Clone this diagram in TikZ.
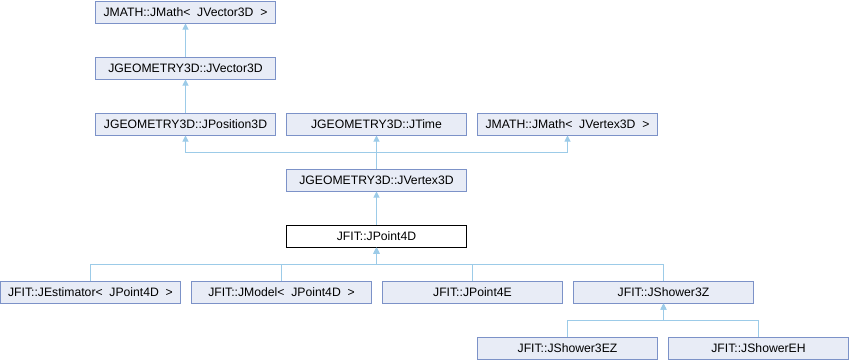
\documentclass[tikz,border=0pt]{standalone}
\usepackage{fontspec}
\setmainfont{Liberation Sans}
\usetikzlibrary{arrows.meta}
\definecolor{boxfill}{HTML}{E8ECF6}
\definecolor{boxline}{HTML}{7C92C8}
\definecolor{edge}{HTML}{9CCBE8}
\tikzset{
  cls/.style={draw=boxline, fill=boxfill, line width=1pt, minimum width=180pt, minimum height=22pt, inner sep=0pt, font=\fontsize{12.2}{14}\selectfont},
  cur/.style={cls, draw=black, fill=white},
  inh/.style={draw=edge, line width=1pt, -{Triangle[width=6pt,length=6pt]}},
}
\begin{document}
\begin{tikzpicture}[x=1pt,y=-1pt]
\useasboundingbox (0,0) rectangle (849,360);
\node[cls] (mv) at (185.5,12) {JMATH::JMath<\ \ JVector3D\ \ >};
\node[cls] (v3) at (185.5,68) {JGEOMETRY3D::JVector3D};
\node[cls] (p3) at (185.5,124) {JGEOMETRY3D::JPosition3D};
\node[cls] (tm) at (376.5,124) {JGEOMETRY3D::JTime};
\node[cls] (mx) at (567.5,124) {JMATH::JMath<\ \ JVertex3D\ \ >};
\node[cls] (vx) at (376.5,180) {JGEOMETRY3D::JVertex3D};
\node[cur] (p4) at (376.5,236) {JFIT::JPoint4D};
\node[cls] (es) at (90.5,292) {JFIT::JEstimator<\ \ JPoint4D\ \ >};
\node[cls] (md) at (281.5,292) {JFIT::JModel<\ \ JPoint4D\ \ >};
\node[cls] (p4e) at (472.5,292) {JFIT::JPoint4E};
\node[cls] (s3z) at (663.5,292) {JFIT::JShower3Z};
\node[cls] (s3ez) at (567.5,348) {JFIT::JShower3EZ};
\node[cls] (seh) at (758.5,348) {JFIT::JShowerEH};
\coordinate (j1) at (0,152);
\coordinate (j2) at (0,264);
\coordinate (j3) at (0,320);
\draw[inh] (v3.north) -- (mv.south);
\draw[inh] (p3.north) -- (v3.south);
\draw[inh] (vx.north) -- (tm.south);
\draw[inh] (vx.north) -- (vx.north |- j1) -| (p3.south);
\draw[inh] (vx.north) -- (vx.north |- j1) -| (mx.south);
\draw[inh] (p4.north) -- (vx.south);
\draw[inh] (es.north) |- (p4.south |- j2) -- (p4.south);
\draw[inh] (md.north) |- (p4.south |- j2) -- (p4.south);
\draw[inh] (p4e.north) |- (p4.south |- j2) -- (p4.south);
\draw[inh] (s3z.north) |- (p4.south |- j2) -- (p4.south);
\draw[inh] (s3ez.north) |- (s3z.south |- j3) -- (s3z.south);
\draw[inh] (seh.north) |- (s3z.south |- j3) -- (s3z.south);
\end{tikzpicture}
\end{document}
